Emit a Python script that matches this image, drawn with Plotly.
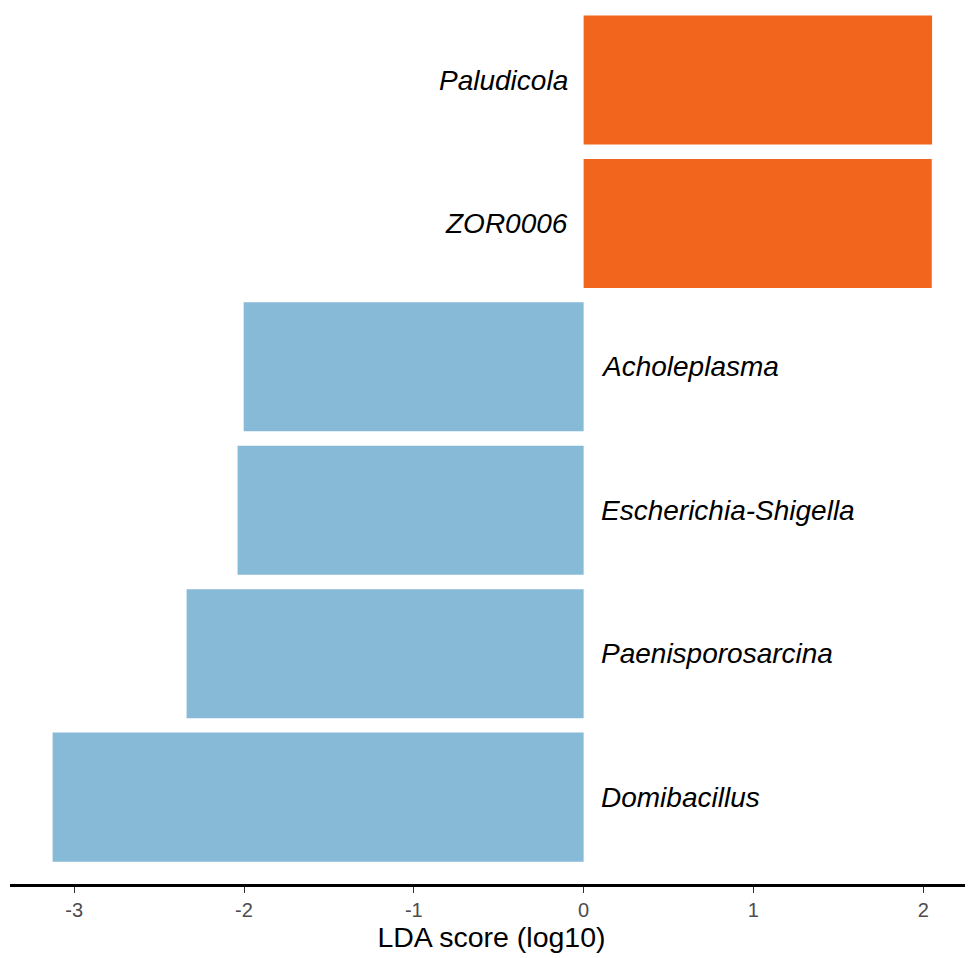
import plotly.graph_objects as go

taxa = ["Domibacillus", "Paenisporosarcina", "Escherichia-Shigella", "Acholeplasma", "ZOR0006", "Paludicola"]
lda = [-3.127, -2.338, -2.038, -2.002, 2.05, 2.052]
tick_vals = [-3, -2, -1, 0, 1, 2]
tick_text = ["-3", "-2", "-1", "0", "1", "2"]

pos_color = "#F2651D"
neg_color = "#86BAD7"

ypos = list(range(1, len(taxa) + 1))
colors = [pos_color if v > 0 else neg_color for v in lda]

FONT = "Liberation Sans, Arial"

fig = go.Figure()
fig.add_trace(go.Bar(
    x=lda, y=ypos, orientation="h", width=0.9,
    marker=dict(color=colors, line=dict(width=0)),
    hovertext=taxa, showlegend=False,
))

for t, v, y in zip(taxa, lda, ypos):
    if v > 0:
        fig.add_annotation(x=0, y=y, text=t, showarrow=False, xanchor="right",
                           xshift=-14, font=dict(family=FONT, size=28, color="black", style="italic"))
    else:
        fig.add_annotation(x=0, y=y, text=t, showarrow=False, xanchor="left",
                           xshift=15, font=dict(family=FONT, size=28, color="black", style="italic"))

fig.update_layout(
    width=965, height=950,
    margin=dict(l=2, r=0, t=0, b=73.5),
    paper_bgcolor="white", plot_bgcolor="white",
    xaxis=dict(
        range=[-3.378, 2.293], tickvals=tick_vals, ticktext=tick_text,
        showgrid=False, zeroline=False,
        showline=True, linecolor="black", linewidth=2.6,
        ticks="outside", ticklen=6, tickwidth=1.4, tickcolor="#333333",
        tickfont=dict(family=FONT, size=20, color="#4D4D4D"),
        title=dict(text="LDA score (log10)", font=dict(family=FONT, size=28.5, color="black"), standoff=6),
    ),
    yaxis=dict(
        range=[0.394, 6.502], showgrid=False, zeroline=False, showline=False,
        showticklabels=False, ticks="",
    ),
)

fig.write_html("out.html")
